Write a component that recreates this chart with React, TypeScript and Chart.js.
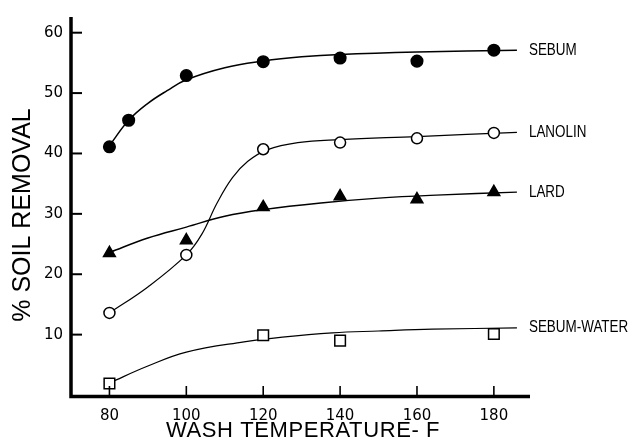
import React, { useEffect, useRef } from "react";
import { Chart, registerables } from "chart.js";

Chart.register(...registerables);

// Measured points (wash temperature °F, % soil removal)
const sebumX = [80, 85, 100, 120, 140, 160, 180];
const sebumY = [41.1, 45.5, 52.9, 55.2, 55.8, 55.3, 57.1];
const lanolinX = [80, 100, 120, 140, 160, 180];
const lanolinY = [13.6, 23.2, 40.7, 41.8, 42.5, 43.4];
const lardX = [80, 100, 120, 140, 160, 180];
const lardY = [23.5, 25.6, 31.1, 32.9, 32.4, 33.6];
const waterX = [80, 120, 140, 180];
const waterY = [1.9, 9.9, 9.0, 10.1];

// Fitted curves
const sebumCurveX = [80, 85, 90, 95, 100, 110, 120, 130, 140, 160, 186];
const sebumCurveY = [41.3, 45.5, 48.3, 50.4, 52.2, 54.2, 55.3, 56.0, 56.4, 56.8, 57.1];
const lanolinCurveX = [80, 90, 100, 104, 108, 112, 116, 121, 129, 140, 160, 186];
const lanolinCurveY = [13.6, 17.9, 23.2, 26.6, 31.8, 36.0, 38.7, 40.6, 41.8, 42.3, 42.8, 43.5];
const lardCurveX = [80, 90, 100, 110, 120, 135, 150, 165, 186];
const lardCurveY = [23.6, 26.0, 27.8, 29.6, 30.7, 31.8, 32.6, 33.1, 33.6];
const waterCurveX = [80, 90, 100, 115, 125, 138, 150, 164, 186];
const waterCurveY = [2.0, 4.8, 7.1, 8.8, 9.6, 10.3, 10.6, 10.9, 11.1];

const curveLabels = ["SEBUM", "LANOLIN", "LARD", "SEBUM-WATER"];
const xTicks = [80, 100, 120, 140, 160, 180];
const yTicks = [10, 20, 30, 40, 50, 60];
const xTitle = "WASH TEMPERATURE- F";
const yTitle = "% SOIL REMOVAL";

const zip = (xs: number[], ys: number[]) => xs.map((x, i) => ({ x, y: ys[i] }));

export default function App() {
  const ref = useRef<HTMLCanvasElement>(null);
  useEffect(() => {
    if (!ref.current) return;
    const curve = (xs: number[], ys: number[], w: number) => ({
      type: "line" as const,
      data: zip(xs, ys),
      borderColor: "#000",
      borderWidth: w,
      pointRadius: 0,
      fill: false,
      tension: 0.4,
      order: 2,
    });
    const marks = (xs: number[], ys: number[], style: string, r: number, bg: string) => ({
      type: "line" as const,
      data: zip(xs, ys),
      showLine: false,
      pointStyle: style,
      pointRadius: r,
      pointBackgroundColor: bg,
      pointBorderColor: "#000",
      pointBorderWidth: 1.5,
      order: 1,
    });
    const labelPlugin = {
      id: "deco",
      afterDraw(chart: any) {
        const ctx = chart.ctx;
        const { left, right, top, bottom } = chart.chartArea;
        const xs = chart.scales.x;
        const ys = chart.scales.y;
        ctx.save();
        ctx.strokeStyle = "#000";
        // axes
        ctx.lineWidth = 3.5;
        ctx.beginPath();
        ctx.moveTo(left, top);
        ctx.lineTo(left, bottom + 1.5);
        ctx.lineTo(right, bottom + 1.5);
        ctx.stroke();
        // inward ticks
        ctx.lineWidth = 2;
        yTicks.forEach((v) => {
          const y = ys.getPixelForValue(v);
          ctx.beginPath();
          ctx.moveTo(left, y);
          ctx.lineTo(left + 11, y);
          ctx.stroke();
        });
        ctx.lineWidth = 1.6;
        xTicks.forEach((v) => {
          const x = xs.getPixelForValue(v);
          ctx.beginPath();
          ctx.moveTo(x, bottom);
          ctx.lineTo(x, bottom - 9);
          ctx.stroke();
        });
        // curve labels (condensed look)
        ctx.fillStyle = "#000";
        ctx.font = "16px 'Liberation Sans'";
        ctx.textBaseline = "middle";
        ctx.textAlign = "left";
        [0, 1, 2, 3].forEach((i) => {
          const meta = chart.getDatasetMeta(4 + i);
          const p = meta.data[meta.data.length - 1];
          ctx.save();
          ctx.translate(p.x + 12, p.y);
          ctx.scale(0.84, 1);
          ctx.fillText(curveLabels[i], 0, 0);
          ctx.restore();
        });
        // axis titles
        ctx.font = "22px 'Liberation Sans'";
        ctx.textAlign = "center";
        (ctx as any).letterSpacing = "0.6px";
        ctx.fillText(xTitle, 303, 431);
        (ctx as any).letterSpacing = "0px";
        ctx.save();
        ctx.translate(23, 215);
        ctx.rotate(-Math.PI / 2);
        ctx.font = "25px 'Liberation Sans'";
        ctx.fillText(yTitle, 0, 0);
        ctx.restore();
        ctx.restore();
      },
    };
    const chart = new Chart(ref.current, {
      type: "line",
      data: {
        datasets: [
          marks(sebumX, sebumY, "circle", 5.8, "#000"),
          marks(lanolinX, lanolinY, "circle", 5.5, "#fff"),
          marks(lardX, lardY, "triangle", 6.8, "#000"),
          marks(waterX, waterY, "rect", 7.5, "#fff"),
          curve(sebumCurveX, sebumCurveY, 1.5),
          curve(lanolinCurveX, lanolinCurveY, 1.2),
          curve(lardCurveX, lardCurveY, 1.4),
          curve(waterCurveX, waterCurveY, 1.2),
        ] as any,
      },
      options: {
        animation: false,
        responsive: false,
        devicePixelRatio: 1,
        layout: { padding: { left: 8, right: 103, top: 10, bottom: 0 } },
        plugins: { legend: { display: false }, tooltip: { enabled: false } },
        scales: {
          x: {
            type: "linear",
            min: 70,
            max: 189.4,
            grid: { display: false, drawTicks: false },
            border: { display: false },
            afterBuildTicks: (axis: any) => {
              axis.ticks = xTicks.map((v) => ({ value: v }));
            },
            afterFit: (scale: any) => {
              scale.height = 52;
            },
            ticks: {
              padding: 12,
              color: "#000",
              font: { family: "'DejaVu Sans'", size: 15 },
              callback: (v: any) => String(v),
              maxRotation: 0,
              autoSkip: false,
            },
          },
          y: {
            type: "linear",
            min: 0,
            max: 62.6,
            grid: { display: false, drawTicks: false },
            border: { display: false },
            afterBuildTicks: (axis: any) => {
              axis.ticks = yTicks.map((v) => ({ value: v }));
            },
            afterFit: (scale: any) => {
              scale.width = 63;
            },
            ticks: {
              padding: 8,
              color: "#000",
              font: { family: "'DejaVu Sans'", size: 15 },
              callback: (v: any) => String(v),
            },
          },
        },
      },
      plugins: [labelPlugin],
    });
    return () => chart.destroy();
  }, []);
  return (
    <div style={{ position: "fixed", left: 0, top: 0, width: 633, height: 447, background: "#fff" }}>
      <canvas ref={ref} width={633} height={447} />
    </div>
  );
}
